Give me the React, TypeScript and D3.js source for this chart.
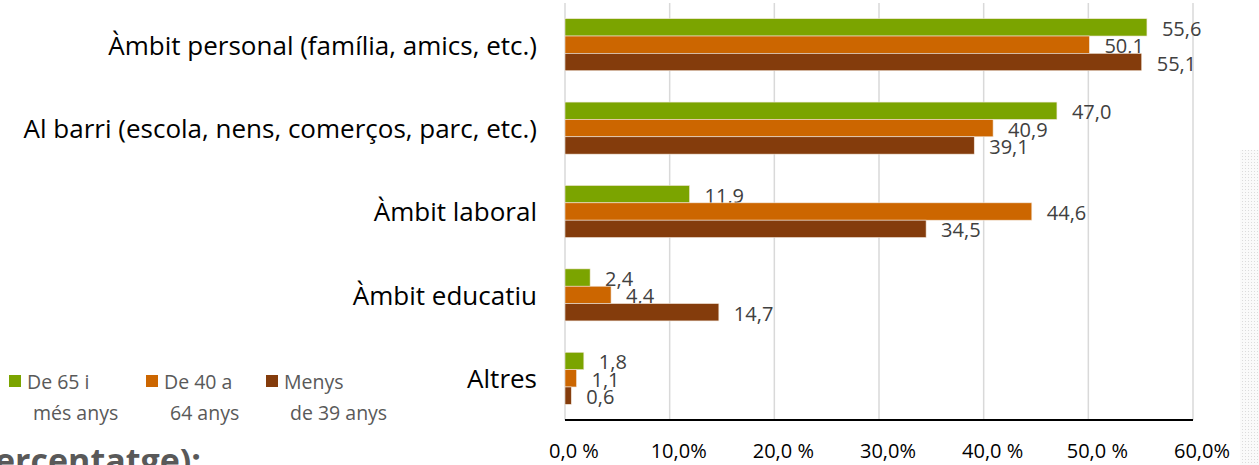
import React from "react";
import { scaleBand, scaleLinear } from "d3";

const categories = [
  "Àmbit personal (família, amics, etc.)",
  "Al barri (escola, nens, comerços, parc, etc.)",
  "Àmbit laboral",
  "Àmbit educatiu",
  "Altres"
];

const seriesNames = [
  ["De 65 i", "més anys"],
  ["De 40 a", "64 anys"],
  ["Menys", "de 39 anys"]
];

const over65 = [55.6, 47.0, 11.9, 2.4, 1.8];
const from40to64 = [50.1, 40.9, 44.6, 4.4, 1.1];
const under39 = [55.1, 39.1, 34.5, 14.7, 0.6];

const xTickValues = [0, 10, 20, 30, 40, 50, 60];
const xTickLabels = ["0,0 %", "10,0%", "20,0 %", "30,0%", "40,0 %", "50,0 %", "60,0%"];

const colors = ["#7ba400", "#cc6600", "#843c0c"];

const FONT = "'Open Sans', sans-serif";

const W = 1259;
const H = 465;

export default function App() {
  const series = [over65, from40to64, under39];

  const x = scaleLinear().domain([0, 60]).range([565, 1193]);
  const y = scaleBand<string>()
    .domain(categories)
    .range([3, 420])
    .paddingInner(0.376)
    .paddingOuter(0.188);
  const ySub = scaleBand<number>()
    .domain([0, 1, 2])
    .range([0, y.bandwidth()]);

  const fmt = (v: number) => v.toFixed(1).replace(".", ",");

  // legend layout
  const legendX = [9, 146, 266];
  const legendSecondX = [33, 170, 290];

  return (
    <svg
      width={W}
      height={H}
      style={{ position: "absolute", left: 0, top: 0, background: "#fff" }}
    >
      <defs>
        <pattern id="dots" width="3" height="3" patternUnits="userSpaceOnUse">
          <rect width="3" height="3" fill="#fafafa" />
          <rect width="1" height="1" fill="#dcdcdc" />
        </pattern>
      </defs>
      <rect x={1240} y={150} width={19} height={315} fill="url(#dots)" />

      {/* gridlines */}
      {xTickValues.map(v => (
        <line
          key={v}
          x1={x(v)}
          x2={x(v)}
          y1={3}
          y2={420}
          stroke="#d9d9d9"
          strokeWidth={1.5}
        />
      ))}

      {/* bars */}
      {categories.map((c, ci) => (
        <g key={c} transform={`translate(0, ${y(c)})`}>
          {series.map((s, si) => (
            <g key={si}>
              <rect
                x={x(0)}
                y={ySub(si)!}
                width={x(s[ci]) - x(0)}
                height={ySub.bandwidth()}
                fill={colors[si]}
                stroke="#f2e6d9"
                strokeWidth={0.6}
              />
              <text
                x={x(s[ci]) + 15}
                y={ySub(si)! + ySub.bandwidth() / 2 + 1}
                dominantBaseline="central"
                fontFamily={FONT}
                fontSize={20}
                fill="#404040"
              >
                {fmt(s[ci])}
              </text>
            </g>
          ))}
          <text
            x={537}
            y={y.bandwidth() / 2}
            textAnchor="end"
            dominantBaseline="central"
            fontFamily={FONT}
            fontSize={26}
            fill="#000"
          >
            {c}
          </text>
        </g>
      ))}

      {/* x axis */}
      <line x1={x(0)} x2={x(60)} y1={420} y2={420} stroke="#000" strokeWidth={2} />
      {xTickValues.map((v, i) => (
        <text
          key={v}
          x={x(v) + 9}
          y={450}
          textAnchor="middle"
          dominantBaseline="central"
          fontFamily={FONT}
          fontSize={20}
          fill="#000"
        >
          {xTickLabels[i]}
        </text>
      ))}

      {/* legend */}
      {seriesNames.map((n, i) => (
        <g key={i} fontFamily={FONT} fontSize={19.5} fill="#595959">
          <rect x={legendX[i]} y={375} width={12} height={12} fill={colors[i]} />
          <text x={legendX[i] + 18} y={381} dominantBaseline="central">
            {n[0]}
          </text>
          <text x={legendSecondX[i]} y={412} dominantBaseline="central">
            {n[1]}
          </text>
        </g>
      ))}

      {/* cut-off heading below */}
      <text
        x={201}
        y={473}
        textAnchor="end"
        fontFamily={FONT}
        fontSize={34}
        fontWeight="bold"
        fill="#595959"
      >
        (percentatge):
      </text>
    </svg>
  );
}
